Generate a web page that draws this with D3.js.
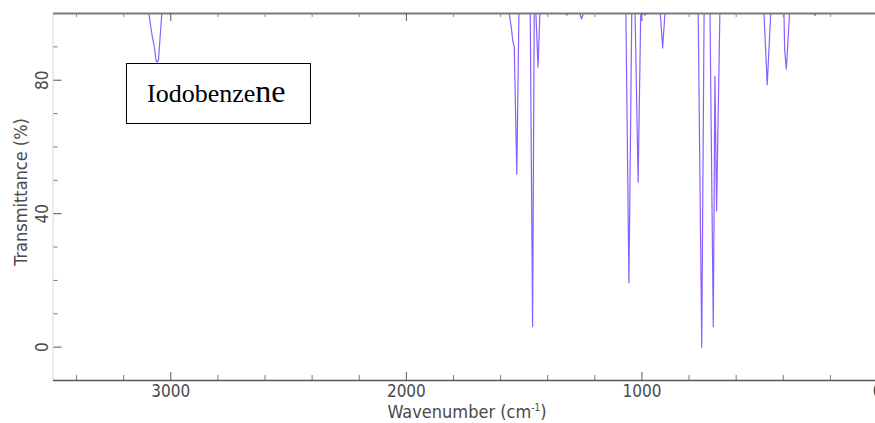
<!DOCTYPE html>
<html>
<head>
<meta charset="utf-8">
<script src="https://cdn.jsdelivr.net/npm/d3@7"></script>
<style>
  body { margin:0; background:#fff; }
  .tick text { font-family:"DejaVu Sans Condensed","DejaVu Sans",sans-serif; font-size:17px; fill:#4a4a4a; }
  .title { font-family:"DejaVu Sans Condensed","DejaVu Sans",sans-serif; font-size:18px; fill:#4a4a4a; }
</style>
</head>
<body>
<div id="irChart"></div>
<script>
// spectrum (cm-1, %T)
var wavenumber = [3500, 3092, 3088, 3082, 3076, 3069, 3060, 3054, 3050, 3036,
  1562, 1553, 1546, 1540, 1529, 1520,
  1472, 1462, 1455,
  1448, 1439, 1431,
  1325, 1317, 1309,
  1262, 1254, 1246,
  1066, 1053, 1041,
  1027, 1014, 1003,
  992, 985, 978,
  920, 910, 900,
  759, 744, 734,
  709, 695, 688, 681, 667,
  480, 466, 451,
  395, 392, 385, 371,
  270, 263, 256,
  0];
var transmittance = [100, 100, 98.5, 95.5, 92.8, 90.4, 85.6, 85.3, 86, 100,
  100, 96, 91.6, 90, 51.7, 100,
  100, 6, 100,
  100, 83.8, 100,
  100, 99.4, 100,
  100, 98.2, 100,
  100, 19.1, 100,
  100, 49.3, 100,
  100, 99.4, 100,
  100, 89.5, 100,
  100, -0.2, 100,
  100, 5.9, 81.1, 40.7, 100,
  100, 78.5, 100,
  100, 89, 83.2, 100,
  100, 99.3, 100,
  100];

var xMajorTicks = [3000, 2000, 1000, 0];
var xMinorTicks = [3400, 3200, 2800, 2600, 2400, 2200, 1800, 1600, 1400, 1200, 800, 600, 400, 200];
var yMajorTicks = [0, 40, 80];
var yMinorTicks = [-10, 10, 20, 30, 50, 60, 70, 90];
var compoundName = "Iodobenze";
var compoundTail = "ne";

(function irSpectrum(){
  var width = 875, height = 423;
  var plotLeft = 52.5, plotRight = 877, plotTop = 13, plotBottom = 380;

  var svg = d3.select('#irChart')
    .append('svg')
      .attr('width', width)
      .attr('height', height);

  var x = d3.scaleLinear().domain([3500, 0]).range([plotLeft, plotRight]);
  var y = d3.scaleLinear().domain([-10, 100]).range([plotBottom, plotTop]);

  svg.append('clipPath').attr('id', 'plotClip')
    .append('rect')
      .attr('x', plotLeft).attr('y', plotTop)
      .attr('width', plotRight - plotLeft).attr('height', plotBottom - plotTop);

  var points = wavenumber.map((w, i) => [w, transmittance[i]]);
  var line = d3.line().x(d => x(d[0])).y(d => y(d[1]));

  svg.append('path')
    .datum(points)
    .attr('clip-path', 'url(#plotClip)')
    .attr('d', line)
    .attr('fill', 'none')
    .attr('stroke', '#7444ff')
    .attr('stroke-opacity', 0.85)
    .attr('stroke-width', 1.2)
    .attr('stroke-linejoin', 'round');

  // left axis (faint line, ticks inward, rotated labels)
  var yAxisG = svg.append('g')
    .attr('transform', `translate(${plotLeft},0)`)
    .call(d3.axisLeft(y).tickValues(yMajorTicks).tickSize(-8).tickSizeOuter(0).tickPadding(4).tickFormat(d3.format('d')));
  yAxisG.selectAll('.tick text')
    .attr('transform', 'rotate(-90)')
    .attr('x', 0).attr('y', -4.5).attr('dy', 0)
    .attr('text-anchor', 'middle');
  yAxisG.select('.domain').attr('stroke', '#d8d8d8');
  yAxisG.selectAll('.tick line').attr('stroke', '#555').attr('transform', 'translate(1,0)');

  svg.append('g')
    .attr('transform', `translate(${plotLeft},0)`)
    .call(d3.axisLeft(y).tickValues(yMinorTicks).tickSize(-4).tickFormat(''))
    .call(g => g.select('.domain').remove())
    .selectAll('.tick line').attr('stroke', '#777').attr('transform', 'translate(1,0)');

  // bottom axis
  var xAxisG = svg.append('g')
    .attr('transform', `translate(0,${plotBottom})`)
    .call(d3.axisBottom(x).tickValues(xMajorTicks).tickSize(-8).tickSizeOuter(0).tickPadding(5).tickFormat(d3.format('d')));
  xAxisG.select('.domain').attr('stroke', '#555').attr('stroke-width', 1.5);
  xAxisG.selectAll('.tick line').attr('stroke', '#555');

  svg.append('g')
    .attr('transform', `translate(0,${plotBottom})`)
    .call(d3.axisBottom(x).tickValues(xMinorTicks).tickSize(-5).tickFormat(''))
    .call(g => g.select('.domain').remove())
    .selectAll('.tick line').attr('stroke', '#777');

  // top frame with inward ticks
  var topG = svg.append('g')
    .attr('transform', `translate(0,${plotTop})`)
    .call(d3.axisTop(x).tickValues(xMajorTicks).tickSize(-8).tickSizeOuter(0).tickFormat(''));
  topG.select('.domain').attr('stroke', '#7a7a7a').attr('stroke-width', 2);
  topG.selectAll('.tick line').attr('stroke', '#555');

  svg.append('g')
    .attr('transform', `translate(0,${plotTop})`)
    .call(d3.axisTop(x).tickValues(xMinorTicks).tickSize(-4).tickFormat(''))
    .call(g => g.select('.domain').remove())
    .selectAll('.tick line').attr('stroke', '#888');

  // axis titles
  var xTitle = svg.append('text')
    .attr('class', 'title')
    .attr('x', 467).attr('y', 418)
    .attr('text-anchor', 'middle');
  xTitle.append('tspan').text('Wavenumber (cm');
  xTitle.append('tspan').attr('font-size', '10px').attr('dy', -7).text('-1');
  xTitle.append('tspan').attr('dy', 7).text(')');

  svg.append('text')
    .attr('class', 'title')
    .attr('transform', 'translate(27,192) rotate(-90)')
    .attr('text-anchor', 'middle')
    .text('Transmittance (%)');

  // compound label
  svg.append('rect')
    .attr('x', 126.5).attr('y', 63.5)
    .attr('width', 184).attr('height', 60)
    .attr('fill', '#fff')
    .attr('stroke', '#000')
    .attr('stroke-width', 1);

  var label = svg.append('text')
    .attr('x', 147).attr('y', 101.5)
    .attr('font-family', '"Liberation Serif","Times New Roman",serif')
    .attr('fill', '#000');
  label.append('tspan').attr('font-size', '26px').text(compoundName);
  label.append('tspan').attr('font-size', '32px').text(compoundTail);
}());
</script>
</body>
</html>
